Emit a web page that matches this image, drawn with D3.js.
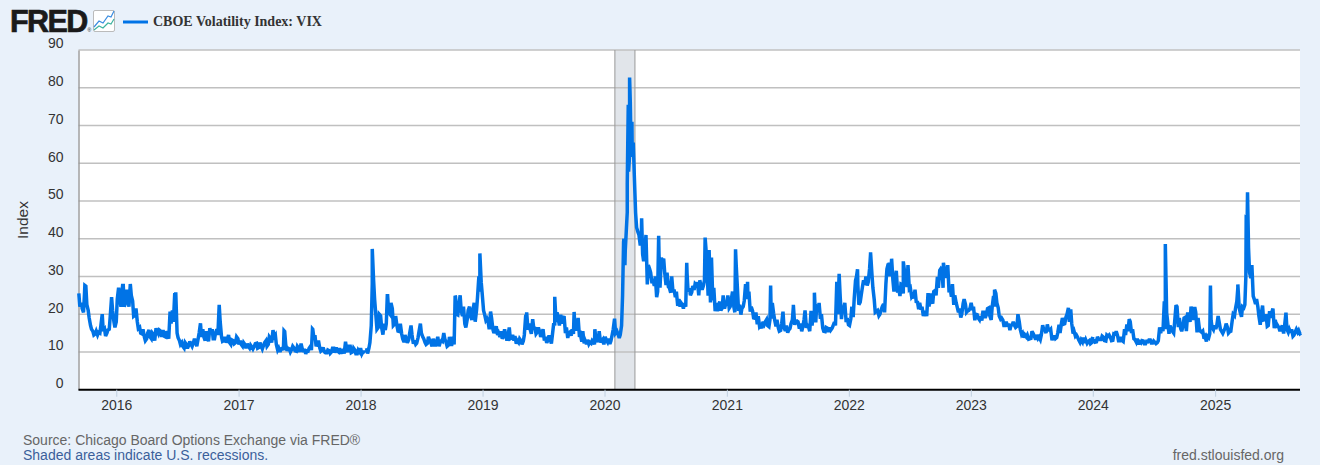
<!DOCTYPE html>
<html><head><meta charset="utf-8">
<script src="https://cdn.jsdelivr.net/npm/d3@7"></script>
<style>
html,body{margin:0;padding:0;background:#e9f1fa;}
svg{display:block;}
text{font-family:"Liberation Sans",Arial,sans-serif;}
</style></head><body>
<div id="chart"></div>
<script>
const seriesName = "CBOE Volatility Index: VIX";
const yAxisTitle = "Index";
const sourceLine = "Source: Chicago Board Options Exchange via FRED®";
const recessionNote = "Shaded areas indicate U.S. recessions.";
const siteLabel = "fred.stlouisfed.org";
const yTicks = [0,10,20,30,40,50,60,70,80,90];
const xTickYears = [2016,2017,2018,2019,2020,2021,2022,2023,2024,2025];
const domainStart = "2015-09-10", domainEnd = "2025-09-12";
const recessionStart = "2020-02-01", recessionEnd = "2020-04-01";

// Friday readings, one array per calendar year, each with its first Friday
const yearStarts = ["2015-09-11","2016-01-01","2017-01-06","2018-01-05","2019-01-04","2020-01-03","2021-01-01","2022-01-07","2023-01-06","2024-01-05","2025-01-03"];
const vix2015 = [25.5,23,20.5,27.4,21,17,15.5,14.8,14.5,15,20,16,15,16,24.5,18];
const vix2016 = [18,27,22,27.6,23,24,28,23.5,19.8,18,16.5,14.8,14,13.5,15.8,13.5,14.5,16.3,14.8,15.5,15.8,14,14.5,20.7,21,25.6,15,13,12.5,11,12,11.8,12,12.5,12.3,13.5,17.6,16,13,14,16.3,16,13.5,16,22.5,14,13,12.5,14.5,12,13,12.5,13.5];
const vix2017 = [13,11.5,12,12.2,11,11.3,11.5,12.3,11.2,11.4,11.8,13,12,13.5,15.8,14.5,10.5,10,11,15.4,10.3,10.8,10.7,11,10.2,11,12.2,10,9.5,10.2,11.5,16,14,12.2,11,10.5,10,9.8,10.3,10,11,11.2,10,9.5,10.5,12.7,10,11.5,10,10.5,9.5,10];
const vix2018 = [9.5,10,11,11,17,29,19.5,16.5,19.6,14.6,15.8,24.9,20,21.5,17.4,16.9,15.4,14.8,12.6,13.4,13.2,17,12.2,12,13.8,17.5,14,12.5,12.3,13,11.5,12.5,13,11.5,13,15,12.5,11.8,12,14,24.7,19.8,25,19.5,17.4,18.5,22,18.5,23,21,30,28.5];
const vix2019 = [21,18.4,17.8,20.7,16,15.8,14.5,14,13.5,16,13,16.5,13.7,13,12.2,12.5,13,12.9,19.5,15.9,15.8,18.7,16.3,15.3,15.4,15,13,12.4,14.4,12.2,17.6,17.9,18.5,19.9,19,15,13.7,15.3,16,17,15.6,14,12.7,12.3,12.1,12.1,12.3,12.6,13.6,12.6,12.5,13.4];
const vix2020 = [14,12.6,12.1,14.6,18.8,15.5,13.7,17,40,41.9,57.8,66,65.5,46.8,41.7,38.2,35.9,37.2,27.9,32,28.2,27.5,24.5,36,35,34.7,27.7,27.3,25.7,25.8,24.5,22.2,22,22.5,22.9,30.7,26.9,25.8,26.4,27.6,25,27.4,27.6,38,24.9,23.1,23.7,20.8,20.8,23.3,21.6,21.5];
const vix2021 = [22.7,21.6,24.3,21.9,33,20.9,19.9,22,28,24.7,20.7,20.9,18.9,17.3,16.7,16.3,17.3,18.6,16.7,18.8,20.2,16.8,16.4,15.7,20.7,15.6,15.1,16.2,18.5,17.2,18.2,16.2,15.5,18.6,16.4,16.4,20.9,20.8,17.8,21.2,18.8,16.3,15.4,16.3,16.5,16.3,17.9,28.6,30.7,18.7,21.6,17.9,17.2];
const vix2022 = [18.8,19.2,28.9,27.7,23.2,27.4,27.8,27.6,32,30.8,23.9,20.8,19.6,21.2,22.7,28.2,33.4,30.2,28.9,29.4,25.7,24.8,27.8,31.1,27.2,26.7,24.6,24.2,23,21.3,21.2,19.5,20.6,25.6,25.5,22.8,26.3,29.9,31.6,31.4,32,29.7,25.8,24.6,22.5,23.1,20.5,19.1,22.8,22.6,20.9,21.7];
const vix2023 = [21.1,18.4,19.9,18.5,18.3,20.5,20,21.7,18.5,24.8,25.5,21.7,18.7,18.4,17,16.8,15.8,17.2,17,16.8,18,14.6,13.8,14,13.4,13.6,14.8,13.3,13.6,13.3,17.1,15.8,17.3,15.7,13.1,14,13.8,17.2,17.5,17.4,19.3,21.7,21.3,14.9,14.2,13.8,12.5,12.6,12.4,12.3,13,12.5];
const vix2024 = [13.4,12.7,13.3,13.3,13.9,12.9,14.2,13.8,13.1,14.7,14.4,13,13,16,17.3,18.7,15,13.5,12.6,12,12.4,12.9,12.2,12.7,13.2,12.4,12.5,12.5,16.5,16.4,23.4,20.4,14.8,16.1,15,22.4,16.6,16.2,16.9,19.2,20.5,18,20.3,21.9,15.2,16.1,15.2,13.5,12.8,13.8,18.4,15.9];
const vix2025 = [16.1,19.5,16,14.9,16.4,16.5,15.4,18.2,19.6,23.4,21.8,19.3,21.7,45.3,37.6,29.6,24.8,22.7,21.9,17.2,22.3,18.6,16.8,20.8,20.6,16.3,16.4,16.4,16.4,14.9,20.4,15.2,15.1,14.2,15.4,15.2,14.8];
const vixByYear = [vix2015,vix2016,vix2017,vix2018,vix2019,vix2020,vix2021,vix2022,vix2023,vix2024,vix2025];

// Readings three days after each Friday
const mid2015 = [22,21.5,25.5,22.5,19,16,14.5,15.5,15.2,17,15.5,14.2,15.8,19.5,21,16.5];
const mid2016 = [24,24.5,26,22,26.5,22,25,19.5,21.5,16.2,15,16,13,15,14,15,13,15.5,15.8,14,14.2,15.5,13.5,17.5,18,24,13.8,12,11.5,12.5,11,12.8,11.5,13.5,11.5,15,14,14,15.5,12.8,15,13.5,15,14.5,18,12.8,14,13.2,12.5,13.2,12.2,14,12];
const mid2017 = [12,12.5,11,11.5,11.8,10.8,12.2,11,12.5,10.8,12.5,11.5,14,12.5,14,12,11,10.8,10.5,12,11,10,11.5,10.3,11.5,10,11,10.8,10.3,11,10.5,14,11.5,13,10.2,11.2,9.8,10.5,9.6,11,9.8,10.3,11,10.4,9.6,10.8,11.5,9.8,11,9.5,10.5,11];
const mid2018 = [10,9.8,9.6,12.5,28,24,16,20,16.5,17.5,17.5,20.5,23,17,19.5,15.5,17.5,13.5,14.5,12.4,15,14.5,13,12.3,15.5,15,13.5,12,14,12.5,13.5,11.5,14,12.5,12.8,13.5,11.5,14,12,12,20,22.5,21,22,16.5,21,19.5,21,18,24.5,26,25.4];
const mid2019 = [20,18.8,16,19,15,16.8,15,15.5,14,14.5,14.3,13.5,14.5,14.2,13,13.5,12,14.5,20,17.5,14.8,16.5,14.8,16.5,14,16,14,13,13.5,14.5,17,20.5,17,17.5,19.5,16.5,15,14.3,14.8,18,19,14.5,15.5,13,13.2,12.6,13,12,13.8,15.5,13,12];
const mid2020 = [13.2,13.5,12.9,16,15,14.8,14.5,25,33,47,62,71,57,43,41,40.5,34,41,33,31,29,30,26,27,34,31,31,27,30,26.5,26,24,23,21.5,22,26,25,27.5,28,28.5,29,26.5,29,34,37,35,27,23,22.5,21,25,22.5];
const mid2021 = [25,22,26,20.5,28,22.5,21.5,23.5,24,26,22,19,20.5,19.5,17,18,18,17,18.5,23,18.5,18.5,15.5,17.5,16.5,17,15.8,17.5,22,18,18,17.5,16.5,21,17,15.5,17,18,22.5,23,20,15.5,16.5,15.3,15.8,17,17,20,25,21.5,23,19,17];
const mid2022 = [22,24,30,22.5,25,29,30,28.5,36,27,20.5,21,20,22,20.5,32,30,34.5,26,31.5,27,28,25.5,29,33,27,25,26.5,23.5,23,22,20.5,19.5,22,24,26,25,27,32,27,30.5,33,27,28,25,22,21.5,20,24,20.5,21,23];
const mid2023 = [22,20,19,19.5,20.5,19,21.5,19.5,22,22,23,19.5,19,17,18,17.5,17,18,16.5,20,16,15,14.5,14.5,13.5,15.5,14.2,14.5,14,14.5,16,15,16,16,14,13.5,15,15,19,17.5,20,18,17.5,15.5,14.5,13.2,13.2,13.8,13.2,12.7,12.2,14];
const mid2024 = [12.6,14,13.3,14.2,13,14.5,14.5,13,14.8,15.5,13,14,12.8,14.5,15.5,18,16,13.3,13.5,12.7,13,12.2,12.8,13.2,12.4,12.9,12.2,13,15,15.5,16,18,17,15.5,18,22,19,15.5,19,15.5,19,22,18.5,20.5,19,15.5,15.5,14,14.2,14.8,16.5,17];
const mid2025 = [17,18,15.5,15.5,17.5,15,15.5,20,21.5,27,20.5,22,22.5,45,31,33,24,24,19.5,20,18.5,20,17,19,21.5,18.5,17,15.5,17,17,16,16,16,14.5,16,15.7,15];
const midByYear = [mid2015,mid2016,mid2017,mid2018,mid2019,mid2020,mid2021,mid2022,mid2023,mid2024,mid2025];

// Other peaks
const peakDates = ["2015-09-29","2016-01-20","2016-06-27","2016-11-04","2017-05-17","2017-08-10","2018-02-05","2018-03-22","2018-10-11","2018-12-24","2019-05-13","2019-08-05","2019-10-02","2019-12-03","2020-02-27","2020-03-03","2020-03-09","2020-03-12","2020-03-16","2020-03-18","2020-03-24","2020-04-21","2020-06-11","2020-09-03","2020-10-28","2021-01-27","2021-03-04","2021-05-12","2021-07-19","2021-09-20","2022-01-27","2022-03-07","2022-05-02","2022-05-09","2022-06-13","2022-10-11","2023-03-13","2024-08-05","2024-12-18","2025-03-10","2025-04-03","2025-04-08"];
const peakValues = [27.6,27.6,25.8,22.5,15.6,16.1,37.3,24.9,24.9,36.1,20.5,24.6,20.6,16,39.2,36.8,54.5,75.5,82.7,76.5,61.7,45.4,40.8,33.6,40.3,37.2,28.6,27.6,22.5,25.7,31.9,36.4,33.7,34.7,34,33.6,26.5,38.6,27.6,27.9,30,52.3];
// Places where the plotted line breaks
const gapDates = ["2018-01-17","2022-01-11","2024-01-02"];

const W = 1320, H = 465;
const plot = {left:78.5, right:1300, top:50, bottom:389.7};
const parse = d3.utcParse("%Y-%m-%d");

const fridays = vixByYear.flatMap((vals,i) => vals.map((v,k) => ({date:d3.utcDay.offset(parse(yearStarts[i]),7*k), value:v})));
const mids = midByYear.flatMap((vals,i) => vals.map((v,k) => ({date:d3.utcDay.offset(parse(yearStarts[i]),7*k+3), value:v})));
const peaks = peakDates.map((d,i) => ({date:parse(d), value:peakValues[i]}));
const gaps = gapDates.map(d => ({date:parse(d), value:null}));
const points = fridays.concat(mids, peaks, gaps).sort((a,b) => a.date-b.date);

const x = d3.scaleUtc().domain([parse(domainStart),parse(domainEnd)]).range([plot.left,plot.right]);
const y = d3.scaleLinear().domain([0,90]).range([plot.bottom,plot.top]);

const svg = d3.select("#chart").append("svg").attr("width",W).attr("height",H);
svg.append("rect").attr("width",W).attr("height",H).attr("fill","#e9f1fa");
svg.append("rect").attr("x",plot.left).attr("y",plot.top).attr("width",plot.right-plot.left).attr("height",plot.bottom-plot.top).attr("fill","#fff");

// recession band
const rx0 = x(parse(recessionStart)), rx1 = x(parse(recessionEnd));
svg.append("rect").attr("x",rx0).attr("y",plot.top).attr("width",rx1-rx0).attr("height",plot.bottom-plot.top).attr("fill","#e1e5ea");

// grid
svg.append("g").selectAll("line").data(yTicks.filter(t => t>0)).join("line")
  .attr("x1",plot.left).attr("x2",plot.right)
  .attr("y1",d => y(d)).attr("y2",d => y(d))
  .attr("stroke","#c0c0c0").attr("stroke-width",1.6);

svg.append("g").selectAll("line").data([rx0,rx1]).join("line")
  .attr("x1",d => d).attr("x2",d => d).attr("y1",plot.top).attr("y2",plot.bottom)
  .attr("stroke","#999").attr("stroke-width",1);

// y axis
const yAxis = d3.axisLeft(y).tickValues(yTicks).tickSize(0).tickPadding(15);
const yg = svg.append("g").attr("transform",`translate(${plot.left},0)`).call(yAxis);
yg.select(".domain").attr("stroke","#999").attr("stroke-width",1.4);
yg.selectAll("text").attr("font-size",14).attr("fill","#333").attr("dy",-2.2).style("font-family",'"Liberation Sans",Arial,sans-serif');

// series
const line = d3.line().defined(d => d.value!==null).x(d => x(d.date)).y(d => y(d.value)).curve(d3.curveLinear);
svg.append("path").datum(points).attr("d",line).attr("fill","none").attr("stroke","#0073e6").attr("stroke-width",3.5).attr("stroke-linejoin","miter").attr("stroke-miterlimit",3);

// x axis
const xAxis = d3.axisBottom(x).tickValues(xTickYears.map(yr => new Date(Date.UTC(yr,0,1)))).tickFormat(d3.utcFormat("%Y")).tickSize(7).tickPadding(3);
const xg = svg.append("g").attr("transform",`translate(0,${plot.bottom})`).call(xAxis);
xg.select(".domain").attr("d",`M${plot.left},0H${plot.right}`).attr("stroke","#000").attr("stroke-width",2);
xg.selectAll(".tick line").attr("stroke","#c0d0e0");
xg.selectAll("text").attr("font-size",14).attr("fill","#333").style("font-family",'"Liberation Sans",Arial,sans-serif');

svg.append("text").attr("transform","translate(28,220) rotate(-90)").attr("text-anchor","middle").attr("font-size",15.5).attr("fill","#333").text(yAxisTitle);

// header
svg.append("text").attr("x",10).attr("y",32).attr("font-size",30.5).attr("font-weight",700).attr("letter-spacing",-1.6).attr("fill","#1a1a1a").attr("stroke","#1a1a1a").attr("stroke-width",0.7).text("FRED");
svg.append("text").attr("x",87.5).attr("y",32).attr("font-size",5).attr("fill","#1a1a1a").text("®");
svg.append("rect").attr("x",93.5).attr("y",10.5).attr("width",21).attr("height",21).attr("rx",1.5).attr("fill","#fff").attr("stroke","#bbb");
svg.append("path").attr("d","M94,27L99,21L103,23L108,16L111,17L114,11").attr("fill","none").attr("stroke","#3b8de0").attr("stroke-width",1.2);
svg.append("path").attr("d","M94,30L99,26L103,28L108,23L111,24L114,19").attr("fill","none").attr("stroke","#3fb3a0").attr("stroke-width",1.2);
svg.append("line").attr("x1",123).attr("x2",148).attr("y1",22).attr("y2",22).attr("stroke","#0073e6").attr("stroke-width",3);
svg.append("text").attr("x",153).attr("y",26).attr("font-size",14).attr("font-weight",700).attr("fill","#333").style("font-family","'Liberation Serif',serif").text(seriesName);

// footer
svg.append("text").attr("x",23).attr("y",445).attr("font-size",14).attr("fill","#666").text(sourceLine);
svg.append("text").attr("x",23).attr("y",459.5).attr("font-size",14).attr("fill","#3b5f9a").text(recessionNote);
svg.append("text").attr("x",1284).attr("y",460).attr("text-anchor","end").attr("font-size",14).attr("fill","#666").text(siteLabel);
</script>
</body></html>
